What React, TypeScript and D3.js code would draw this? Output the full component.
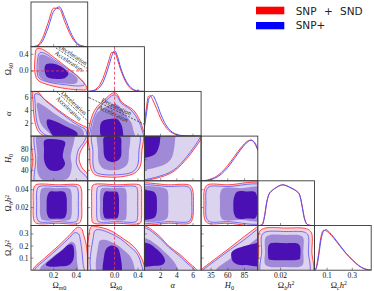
import React from 'react';
import * as d3 from 'd3';

type Pt = [number, number];

// ---- 1D marginals (peak-normalised) ----
const omegaMGrid = [0, 0.05, 0.1, 0.15, 0.2, 0.25, 0.3, 0.35, 0.4, 0.45, 0.5];
const omegaMRed = [0, 0.02, 0.2, 0.58, 0.95, 0.93, 0.6, 0.28, 0.08, 0.01, 0];
const omegaMBlue = [0, 0.01, 0.13, 0.46, 0.87, 0.98, 0.7, 0.35, 0.11, 0.02, 0];

const omegaKGrid = [-0.45, -0.4, -0.35, -0.3, -0.25, -0.2, -0.15, -0.1, -0.05, 0, 0.05, 0.1, 0.15, 0.2, 0.25, 0.3, 0.35, 0.4, 0.45, 0.5];
const omegaKRed = [0, 0.01, 0.03, 0.08, 0.17, 0.32, 0.52, 0.75, 0.96, 0.96, 0.78, 0.55, 0.36, 0.21, 0.11, 0.05, 0.02, 0.01, 0, 0];
const omegaKBlue = [0, 0.005, 0.02, 0.05, 0.11, 0.22, 0.4, 0.62, 0.86, 1.0, 0.86, 0.6, 0.4, 0.25, 0.14, 0.07, 0.03, 0.01, 0, 0];

const alphaGrid = [0, 0.25, 0.5, 0.75, 1, 1.5, 2, 2.5, 3, 3.5, 4, 4.5, 5, 6, 7];
const alphaRed = [0.3, 0.7, 0.98, 0.99, 0.9, 0.68, 0.44, 0.26, 0.14, 0.07, 0.03, 0.012, 0.005, 0, 0];
const alphaBlue = [0.2, 0.55, 0.88, 0.98, 1.0, 0.82, 0.55, 0.33, 0.18, 0.09, 0.04, 0.017, 0.008, 0, 0];

const h0Grid = [20, 30, 40, 50, 60, 70, 80, 90, 95, 100, 105];
const h0Red = [0, 0.02, 0.08, 0.2, 0.38, 0.6, 0.82, 0.98, 1.0, 0.93, 0.75];
const h0Blue = [0, 0.01, 0.06, 0.16, 0.33, 0.55, 0.78, 0.96, 1.0, 0.95, 0.78];

const ombGrid = [0.002, 0.004, 0.006, 0.008, 0.01, 0.013, 0.016, 0.02, 0.022, 0.025, 0.028, 0.031, 0.034, 0.037, 0.039, 0.041, 0.043, 0.045, 0.047];
const ombRed = [0, 0.03, 0.25, 0.6, 0.78, 0.87, 0.93, 0.99, 1.0, 0.98, 0.94, 0.9, 0.85, 0.75, 0.5, 0.2, 0.05, 0.01, 0];
const ombBlue = [0, 0.02, 0.22, 0.58, 0.77, 0.87, 0.93, 0.99, 1.0, 0.985, 0.945, 0.9, 0.85, 0.74, 0.48, 0.18, 0.04, 0.01, 0];

const omcGrid = [0, 0.01, 0.03, 0.05, 0.07, 0.09, 0.12, 0.15, 0.2, 0.25, 0.3, 0.35, 0.4, 0.45];
const omcRed = [0, 0.03, 0.35, 0.8, 0.98, 0.97, 0.9, 0.8, 0.6, 0.41, 0.25, 0.11, 0.03, 0];
const omcBlue = [0, 0.02, 0.28, 0.72, 0.95, 1.0, 0.93, 0.82, 0.62, 0.42, 0.26, 0.12, 0.03, 0];

// ---- 2D contours: [SNP+SND outer, SNP+ outer, SNP+ middle, SNP+ inner] ----
const mkContours: Pt[][] = [
  [[0.05, 0.53], [0.1, 0.52], [0.2, 0.33], [0.3, 0.12], [0.4, -0.1], [0.48, -0.33], [0.49, -0.44], [0.42, -0.45], [0.3, -0.42], [0.15, -0.33], [0.06, -0.22], [0.035, -0.05], [0.035, 0.3]],
  [[0.08, 0.44], [0.13, 0.41], [0.22, 0.24], [0.32, 0.05], [0.42, -0.15], [0.47, -0.33], [0.42, -0.36], [0.3, -0.33], [0.16, -0.27], [0.07, -0.17], [0.055, 0.0], [0.06, 0.3]],
  [[0.08, 0.38], [0.14, 0.36], [0.23, 0.2], [0.33, 0.0], [0.41, -0.18], [0.4, -0.29], [0.28, -0.3], [0.14, -0.25], [0.075, -0.14], [0.065, 0.1]],
  [[0.13, 0.15], [0.2, 0.17], [0.28, 0.08], [0.33, -0.07], [0.3, -0.17], [0.21, -0.19], [0.14, -0.14], [0.12, 0.02]],
];
const maContours: Pt[][] = [
  [[0.018, 6.95], [0.062, 6.9], [0.106, 5.97], [0.168, 5.1], [0.238, 4.13], [0.31, 3.2], [0.385, 2.32], [0.45, 1.7], [0.495, 1.27], [0.51, 0.5], [0.51, -0.3], [0.3, -0.3], [0.13, -0.05], [0.07, 0.6], [0.04, 1.8], [0.025, 3.3], [0.018, 5.3]],
  [[0.035, 6.6], [0.079, 6.44], [0.123, 5.65], [0.18, 4.8], [0.238, 3.93], [0.31, 3.0], [0.37, 2.2], [0.43, 1.55], [0.476, 1.1], [0.49, 0.5], [0.49, -0.3], [0.3, -0.3], [0.14, 0.1], [0.085, 0.8], [0.055, 2.0], [0.042, 3.5], [0.036, 5.3]],
  [[0.055, 5.2], [0.115, 4.71], [0.212, 3.46], [0.326, 2.2], [0.45, 1.11], [0.468, 0.3], [0.45, -0.3], [0.22, -0.3], [0.15, 0.64], [0.088, 1.9], [0.062, 3.62]],
  [[0.145, 2.6], [0.2, 2.4], [0.3, 1.6], [0.38, 0.9], [0.41, 0.4], [0.4, -0.3], [0.22, -0.3], [0.17, 0.7], [0.14, 1.8]],
];
const kaContours: Pt[][] = [
  [[-0.1, 6.3], [-0.03, 6.75], [0.03, 6.7], [0.12, 5.35], [0.22, 4.7], [0.32, 4.09], [0.43, 2.52], [0.49, 0.96], [0.52, -0.3], [0.0, -0.3], [-0.45, -0.3], [-0.44, 1.0], [-0.42, 2.0], [-0.38, 3.3], [-0.3, 4.6], [-0.22, 5.3]],
  [[-0.1, 5.95], [-0.03, 6.4], [0.03, 6.35], [0.12, 5.1], [0.22, 4.5], [0.3, 3.9], [0.41, 2.4], [0.47, 0.9], [0.49, -0.3], [0.0, -0.3], [-0.43, -0.3], [-0.41, 1.0], [-0.39, 2.0], [-0.34, 3.3], [-0.27, 4.5], [-0.2, 5.1]],
  [[-0.03, 5.0], [0.05, 4.9], [0.18, 3.4], [0.28, 2.2], [0.32, 1.0], [0.34, -0.3], [-0.39, -0.3], [-0.375, 1.8], [-0.3, 3.6], [-0.15, 4.6]],
  [[-0.22, 2.25], [-0.08, 2.68], [0.04, 2.68], [0.11, 1.9], [0.14, 0.9], [0.13, -0.3], [-0.21, -0.3], [-0.25, 1.0]],
];
const mhContours: Pt[][] = [
  [[0.018, 112], [0.3, 112], [0.51, 112], [0.5, 98], [0.46, 85], [0.432, 73], [0.425, 60], [0.45, 45], [0.5, 32], [0.52, 12], [0.3, 12], [0.018, 12], [0.016, 60]],
  [[0.044, 112], [0.3, 112], [0.49, 112], [0.47, 95], [0.42, 80], [0.405, 68], [0.4, 55], [0.43, 40], [0.49, 27], [0.51, 12], [0.3, 12], [0.044, 12], [0.042, 60]],
  [[0.06, 112], [0.38, 112], [0.38, 95], [0.36, 78], [0.35, 65], [0.36, 50], [0.35, 35], [0.32, 24], [0.2, 20], [0.1, 22], [0.06, 35], [0.055, 70]],
  [[0.12, 97], [0.21, 99], [0.3, 94], [0.29, 80], [0.28, 66], [0.3, 52], [0.26, 41], [0.17, 40], [0.12, 55], [0.115, 80]],
];
const khContours: Pt[][] = [
  [[-0.425, 112], [0.465, 112], [0.465, 75], [0.44, 48], [0.35, 35], [0.1, 27.5], [-0.2, 28], [-0.34, 32], [-0.41, 45], [-0.425, 75]],
  [[-0.37, 112], [0.41, 112], [0.415, 75], [0.39, 48], [0.3, 36.5], [0.05, 31.5], [-0.2, 32], [-0.32, 36], [-0.365, 48], [-0.37, 75]],
  [[-0.28, 112], [0.24, 112], [0.245, 75], [0.22, 52], [0.1, 42], [-0.05, 40], [-0.2, 44], [-0.27, 55], [-0.285, 80]],
  [[-0.18, 103], [-0.04, 105], [0.1, 103], [0.115, 85], [0.1, 64], [0.0, 56], [-0.1, 57], [-0.17, 65], [-0.19, 85]],
];
const ahContours: Pt[][] = [
  [[-1, 115], [7.3, 115], [7.1, 103], [6.5, 88], [5.8, 73], [5.0, 58], [4.2, 45], [3.2, 34], [2.0, 27], [0.8, 22.5], [-1, 19.5], [-1, 60]],
  [[-1, 115], [7.2, 115], [6.9, 103], [6.3, 88], [5.6, 73], [4.8, 58], [4.0, 45], [3.0, 35], [1.9, 29], [0.8, 24.5], [-1, 22], [-1, 60]],
  [[-1, 115], [3.85, 115], [3.8, 100], [3.65, 80], [3.4, 65], [2.8, 54], [1.9, 47.5], [0.8, 43], [-1, 41], [-1, 80]],
  [[-1, 115], [1.95, 115], [1.95, 100], [1.8, 85], [1.4, 72], [0.7, 66], [-1, 63], [-1, 90]],
];
const mbContours: Pt[][] = [
  [[0.04, 0.0453], [0.24, 0.0455], [0.425, 0.045], [0.445, 0.04], [0.447, 0.024], [0.445, 0.008], [0.425, 0.0027], [0.24, 0.0025], [0.04, 0.003], [0.022, 0.008], [0.02, 0.024], [0.022, 0.04]],
  [[0.07, 0.0434], [0.24, 0.0436], [0.4, 0.0432], [0.415, 0.039], [0.417, 0.024], [0.415, 0.009], [0.4, 0.0045], [0.24, 0.0043], [0.07, 0.0045], [0.052, 0.009], [0.05, 0.024], [0.052, 0.039]],
  [[0.1, 0.0416], [0.22, 0.0418], [0.34, 0.0414], [0.357, 0.037], [0.36, 0.024], [0.357, 0.011], [0.34, 0.0063], [0.22, 0.006], [0.1, 0.0063], [0.082, 0.011], [0.079, 0.024], [0.082, 0.037]],
  [[0.165, 0.0378], [0.23, 0.038], [0.295, 0.0375], [0.313, 0.032], [0.316, 0.023], [0.312, 0.013], [0.29, 0.008], [0.23, 0.0078], [0.165, 0.008], [0.142, 0.013], [0.138, 0.023], [0.142, 0.032]],
];
const kbContours: Pt[][] = [
  [[-0.37, 0.0453], [0.04, 0.0455], [0.44, 0.045], [0.46, 0.04], [0.463, 0.024], [0.46, 0.008], [0.44, 0.0027], [0.04, 0.0025], [-0.37, 0.003], [-0.39, 0.008], [-0.392, 0.024], [-0.39, 0.04]],
  [[-0.28, 0.0434], [0.04, 0.0436], [0.37, 0.0432], [0.392, 0.039], [0.395, 0.024], [0.392, 0.009], [0.37, 0.0045], [0.04, 0.0043], [-0.28, 0.0045], [-0.303, 0.009], [-0.306, 0.024], [-0.303, 0.039]],
  [[-0.22, 0.0416], [-0.02, 0.0418], [0.18, 0.0414], [0.204, 0.037], [0.207, 0.024], [0.204, 0.011], [0.18, 0.0063], [-0.02, 0.006], [-0.22, 0.0063], [-0.247, 0.011], [-0.25, 0.024], [-0.247, 0.037]],
  [[-0.16, 0.0378], [-0.06, 0.038], [0.045, 0.0375], [0.072, 0.032], [0.076, 0.023], [0.071, 0.013], [0.04, 0.008], [-0.06, 0.0078], [-0.16, 0.008], [-0.193, 0.013], [-0.198, 0.023], [-0.193, 0.032]],
];
const abContours: Pt[][] = [
  [[-1, 0.0453], [3, 0.0455], [5.6, 0.045], [5.95, 0.04], [6.05, 0.024], [5.95, 0.008], [5.6, 0.0027], [3, 0.0025], [-1, 0.0025], [-1, 0.024]],
  [[-1, 0.0434], [3, 0.0436], [5.4, 0.0432], [5.75, 0.039], [5.85, 0.024], [5.8, 0.009], [5.5, 0.0045], [3, 0.0043], [-1, 0.0043], [-1, 0.024]],
  [[-1, 0.0416], [2.5, 0.0417], [2.85, 0.039], [2.95, 0.024], [2.85, 0.009], [2.5, 0.0062], [-1, 0.0062], [-1, 0.024]],
  [[-1, 0.0378], [1.1, 0.038], [1.45, 0.034], [1.55, 0.023], [1.45, 0.012], [1.1, 0.008], [-1, 0.008], [-1, 0.023]],
];
const hbContours: Pt[][] = [
  [[30, 0.0455], [60, 0.0455], [115, 0.0455], [115, 0.0025], [60, 0.0025], [30, 0.0027], [25, 0.008], [24.2, 0.024], [25, 0.04]],
  [[32, 0.0434], [60, 0.0436], [115, 0.0436], [115, 0.0043], [60, 0.0043], [32, 0.0045], [27.8, 0.009], [27.2, 0.024], [27.8, 0.039]],
  [[53, 0.0416], [80, 0.0417], [115, 0.0417], [115, 0.0062], [80, 0.0062], [53, 0.0063], [49, 0.011], [48.3, 0.024], [49, 0.037]],
  [[74, 0.0378], [90, 0.038], [101, 0.0375], [104, 0.032], [104.5, 0.023], [104, 0.013], [101, 0.0082], [90, 0.0078], [74, 0.008], [69.5, 0.013], [68.3, 0.023], [69.5, 0.032]],
];
const mcContours: Pt[][] = [
  [[0.015, -0.04], [0.02, 0.01], [0.12, 0.1], [0.24, 0.2], [0.35, 0.3], [0.41, 0.355], [0.445, 0.345], [0.465, 0.29], [0.49, 0.2], [0.5, 0.08], [0.51, -0.04]],
  [[0.03, -0.04], [0.035, 0.008], [0.13, 0.09], [0.25, 0.19], [0.34, 0.27], [0.385, 0.31], [0.42, 0.3], [0.435, 0.25], [0.45, 0.15], [0.46, 0.05], [0.465, -0.04]],
  [[0.075, -0.04], [0.08, 0.015], [0.18, 0.1], [0.3, 0.19], [0.355, 0.235], [0.385, 0.22], [0.4, 0.165], [0.405, 0.08], [0.405, -0.04]],
  [[0.13, 0.045], [0.2, 0.11], [0.28, 0.17], [0.33, 0.21], [0.365, 0.21], [0.38, 0.16], [0.37, 0.08], [0.33, 0.04], [0.24, 0.03], [0.16, 0.03]],
];
const kcContours: Pt[][] = [
  [[-0.435, -0.04], [-0.435, 0.3], [-0.4, 0.36], [-0.3, 0.36], [-0.08, 0.33], [0.15, 0.26], [0.32, 0.2], [0.44, 0.12], [0.5, 0.05], [0.52, -0.04]],
  [[-0.365, -0.04], [-0.365, 0.27], [-0.33, 0.33], [-0.25, 0.335], [-0.05, 0.3], [0.1, 0.26], [0.25, 0.2], [0.38, 0.14], [0.45, 0.06], [0.47, -0.04]],
  [[-0.28, -0.04], [-0.28, 0.2], [-0.25, 0.245], [-0.15, 0.25], [0.0, 0.22], [0.15, 0.17], [0.26, 0.12], [0.32, 0.06], [0.33, -0.04]],
  [[-0.18, -0.04], [-0.185, 0.1], [-0.14, 0.18], [-0.05, 0.205], [0.05, 0.185], [0.1, 0.12], [0.1, -0.04]],
];
const acContours: Pt[][] = [
  [[-1, -0.05], [-1, 0.37], [0.3, 0.36], [1.0, 0.33], [1.9, 0.28], [3.0, 0.2], [4.4, 0.13], [5.5, 0.06], [6.3, 0.015], [6.8, -0.05]],
  [[-1, -0.05], [-1, 0.35], [0.3, 0.345], [1.0, 0.315], [1.9, 0.265], [3.0, 0.19], [4.3, 0.12], [5.4, 0.05], [6.1, 0.01], [6.4, -0.05]],
  [[-1, -0.05], [-1, 0.27], [0.5, 0.255], [1.5, 0.21], [2.5, 0.15], [3.4, 0.09], [4.0, 0.03], [4.2, -0.05]],
  [[-1, 0.04], [-1, 0.23], [0.5, 0.22], [1.5, 0.175], [2.3, 0.12], [2.55, 0.075], [2.2, 0.045], [1.0, 0.035]],
];
const hcContours: Pt[][] = [
  [[10, -0.05], [18, -0.005], [40, 0.089], [63, 0.185], [85, 0.28], [103, 0.355], [115, 0.405], [115, -0.05]],
  [[12, -0.05], [21, -0.005], [42, 0.083], [64, 0.172], [86, 0.258], [103, 0.333], [115, 0.38], [115, -0.05]],
  [[38, -0.05], [43, 0.01], [60, 0.08], [80, 0.16], [103, 0.26], [115, 0.3], [115, -0.05]],
  [[66, 0.15], [72, 0.175], [88, 0.205], [101, 0.222], [110, 0.23], [110, 0.04], [90, 0.042], [76, 0.045], [68, 0.07], [65, 0.12]],
];
const bcContours: Pt[][] = [
  [[0.0008, -0.03], [0.0008, 0.15], [0.001, 0.31], [0.005, 0.345], [0.025, 0.349], [0.043, 0.343], [0.0473, 0.31], [0.0477, 0.15], [0.0477, -0.03]],
  [[0.0034, -0.03], [0.0034, 0.15], [0.0036, 0.29], [0.007, 0.317], [0.025, 0.32], [0.041, 0.315], [0.0443, 0.29], [0.0446, 0.15], [0.0446, -0.03]],
  [[0.0064, 0.05], [0.0064, 0.15], [0.0068, 0.27], [0.01, 0.29], [0.025, 0.292], [0.037, 0.289], [0.04, 0.27], [0.0401, 0.15], [0.0399, 0.05], [0.037, 0.029], [0.025, 0.027], [0.01, 0.029]],
  [[0.0093, 0.2], [0.011, 0.222], [0.025, 0.224], [0.035, 0.221], [0.0372, 0.2], [0.0373, 0.1], [0.0368, 0.09], [0.034, 0.084], [0.025, 0.083], [0.012, 0.084], [0.0095, 0.09], [0.0093, 0.1]],
];

// ---- axes ----
const xDomains: [number, number][] = [[0, 0.5], [-0.46, 0.51], [0, 7], [20, 105], [0, 0.05], [0, 0.45]];
const yDomains: [number, number][] = [[0, 1], [-0.49, 0.58], [0, 7], [20, 105], [0, 0.05], [0, 0.37]];
const xTickVals = [[0.2, 0.4], [0.0, 0.4], [2, 4, 6], [35, 60, 85], [0.02], [0.1, 0.3]];
const xTickText = [['0.2', '0.4'], ['0.0', '0.4'], ['2', '4', '6'], ['35', '60', '85'], ['0.02'], ['0.1', '0.3']];
const yTickVals = [[], [0.0, 0.4], [2, 4, 6], [40, 60, 80], [0.02, 0.04], [0.1, 0.2, 0.3]];
const yTickText = [[], ['0.0', '0.4'], ['2', '4', '6'], ['40', '60', '80'], ['0.02', '0.04'], ['0.1', '0.2', '0.3']];

const legendLabels = ['SNP + SND', 'SNP+'];
const annoTexts = ['Deceleration', 'Acceleration'];

const X0 = 31, Y0 = 2, CW = 56.7, RH = 44.7;
const RED = '#ff3535', BLUE = '#5252ff';
const FILLS = ['#f8d4dd', '#dcd3ef', '#a08ad7', '#4b10b3'];
const SERIF = "'Liberation Serif', 'DejaVu Serif', serif";
const X_LABEL_SHIFT = [0, 0, 0, 0, 0, -4];

const colX = (c: number) => X0 + c * CW;
const rowY = (r: number) => Y0 + r * RH;
const xScale = (c: number) => d3.scaleLinear().domain(xDomains[c]).range([colX(c), colX(c) + CW]);
const yScale = (r: number) => d3.scaleLinear().domain(yDomains[r]).range([rowY(r) + RH, rowY(r)]);

const diagonals = [
  { grid: omegaMGrid, red: omegaMRed, blue: omegaMBlue },
  { grid: omegaKGrid, red: omegaKRed, blue: omegaKBlue },
  { grid: alphaGrid, red: alphaRed, blue: alphaBlue },
  { grid: h0Grid, red: h0Red, blue: h0Blue },
  { grid: ombGrid, red: ombRed, blue: ombBlue },
  { grid: omcGrid, red: omcRed, blue: omcBlue },
];

const panels2D = [
  { row: 1, col: 0, c: mkContours },
  { row: 2, col: 0, c: maContours },
  { row: 2, col: 1, c: kaContours },
  { row: 3, col: 0, c: mhContours },
  { row: 3, col: 1, c: khContours },
  { row: 3, col: 2, c: ahContours },
  { row: 4, col: 0, c: mbContours },
  { row: 4, col: 1, c: kbContours },
  { row: 4, col: 2, c: abContours },
  { row: 4, col: 3, c: hbContours },
  { row: 5, col: 0, c: mcContours },
  { row: 5, col: 1, c: kcContours },
  { row: 5, col: 2, c: acContours },
  { row: 5, col: 3, c: hcContours },
  { row: 5, col: 4, c: bcContours },
];

const annoLines: { row: number; col: number; from: Pt; to: Pt }[] = [
  { row: 1, col: 0, from: [0.22, 0.55], to: [0.5, 0.05] },
  { row: 2, col: 0, from: [0.223, 7.0], to: [0.503, 2.32] },
  { row: 2, col: 1, from: [-0.48, 6.23], to: [0.52, 1.79] },
];

const clipId = (r: number, c: number) => `clip-${r}-${c}`;

const XTicks = ({ col, row }: { col: number; row: number }) => {
  const xs = xScale(col);
  const bottom = rowY(row) + RH;
  return (
    <g stroke="#444" strokeWidth={0.6}>
      {xTickVals[col].map((v, i) => (
        <line key={i} x1={xs(v)} x2={xs(v)} y1={bottom} y2={bottom - 2.5} />
      ))}
    </g>
  );
};

const YTicks = ({ col, row }: { col: number; row: number }) => {
  const ys = yScale(row);
  const left = colX(col);
  return (
    <g stroke="#444" strokeWidth={0.6}>
      {yTickVals[row].map((v, i) => (
        <line key={i} x1={left} x2={left + 2.5} y1={ys(v)} y2={ys(v)} />
      ))}
    </g>
  );
};

const Frame = ({ row, col }: { row: number; col: number }) => (
  <rect x={colX(col)} y={rowY(row)} width={CW} height={RH} fill="none" stroke="#3a3a3a" strokeWidth={0.9} />
);

const Panel2D = ({ row, col, c }: { row: number; col: number; c: Pt[][] }) => {
  const xs = xScale(col);
  const ys = yScale(row);
  const line = d3.line<Pt>().x(d => xs(d[0])).y(d => ys(d[1])).curve(d3.curveCatmullRomClosed.alpha(0.5));
  return (
    <g>
      <g clipPath={`url(#${clipId(row, col)})`}>
        {c.map((pts, i) => (
          <path key={i} d={line(pts) || ''} fill={FILLS[i]} stroke="none" />
        ))}
        <path d={line(c[1]) || ''} fill="none" stroke={BLUE} strokeWidth={0.8} />
        <path d={line(c[0]) || ''} fill="none" stroke={RED} strokeWidth={0.9} />
      </g>
      <XTicks col={col} row={row} />
      <YTicks col={col} row={row} />
    </g>
  );
};

const PanelDiag = ({ i }: { i: number }) => {
  const d = diagonals[i];
  const xs = xScale(i);
  const ys = d3.scaleLinear().domain([0, 1.1]).range([rowY(i) + RH, rowY(i)]);
  const line = (vals: number[]) =>
    d3.line<number>().x((_, k) => xs(d.grid[k])).y(v => ys(v)).curve(d3.curveMonotoneX)(vals) || '';
  return (
    <g>
      <g clipPath={`url(#${clipId(i, i)})`}>
        <path d={line(d.red)} fill="none" stroke={RED} strokeWidth={1} />
        <path d={line(d.blue)} fill="none" stroke={BLUE} strokeWidth={1} />
      </g>
      <XTicks col={i} row={i} />
    </g>
  );
};

const Annotation = ({ row, col, from, to }: { row: number; col: number; from: Pt; to: Pt }) => {
  const xs = xScale(col);
  const ys = yScale(row);
  const x1 = xs(from[0]), y1 = ys(from[1]), x2 = xs(to[0]), y2 = ys(to[1]);
  const ang = (Math.atan2(y2 - y1, x2 - x1) * 180) / Math.PI;
  const mx = (x1 + x2) / 2, my = (y1 + y2) / 2;
  return (
    <g clipPath={`url(#${clipId(row, col)})`}>
      <line x1={x1} y1={y1} x2={x2} y2={y2} stroke="#222" strokeWidth={0.7} strokeDasharray="2,1.3" />
      <g transform={`translate(${mx},${my}) rotate(${ang})`} fontFamily={SERIF} fontSize={6.3} fill="#222" textAnchor="middle">
        <text x={-1} y={-1.6}>{annoTexts[0]}</text>
        <text x={-1} y={6}>{annoTexts[1]}</text>
      </g>
    </g>
  );
};

const sub = (t: string, italic = true) => (
  <tspan dy={2} fontSize={6.2} fontStyle={italic ? 'italic' : 'normal'}>{t}</tspan>
);

const axisLabels = [
  <><tspan>Ω</tspan><tspan dy={2} fontSize={6.2} fontStyle="italic">m</tspan><tspan fontSize={6.2}>0</tspan></>,
  <><tspan>Ω</tspan><tspan dy={2} fontSize={6.2} fontStyle="italic">k</tspan><tspan fontSize={6.2}>0</tspan></>,
  <tspan fontStyle="italic">α</tspan>,
  <><tspan fontStyle="italic">H</tspan>{sub('0', false)}</>,
  <><tspan>Ω</tspan>{sub('b')}<tspan dy={-2} fontStyle="italic">h</tspan><tspan dy={-2.5} fontSize={5.8}>2</tspan></>,
  <><tspan>Ω</tspan>{sub('c')}<tspan dy={-2} fontStyle="italic">h</tspan><tspan dy={-2.5} fontSize={5.8}>2</tspan></>,
];

export default function App() {
  const bottom = rowY(6);
  const kZero = xScale(1)(0);
  const mkZeroY = yScale(1)(0);
  return (
    <svg width={374} height={291} style={{ position: 'absolute', left: 0, top: 0, background: '#fff' }} fontFamily={SERIF}>
      <defs>
        {d3.range(6).map(r =>
          d3.range(r + 1).map(c => (
            <clipPath key={`${r}-${c}`} id={clipId(r, c)}>
              <rect x={colX(c)} y={rowY(r)} width={CW} height={RH} />
            </clipPath>
          ))
        )}
      </defs>

      {panels2D.map(p => (
        <Panel2D key={`${p.row}-${p.col}`} row={p.row} col={p.col} c={p.c} />
      ))}
      {diagonals.map((_, i) => (
        <PanelDiag key={i} i={i} />
      ))}

      {annoLines.map((a, i) => (
        <Annotation key={i} {...a} />
      ))}

      {/* Omega_k0 = 0 reference lines */}
      <line x1={kZero} x2={kZero} y1={rowY(1)} y2={bottom} stroke="#e8385a" strokeOpacity={0.85} strokeWidth={1} strokeDasharray="3,2" />
      <line x1={colX(0)} x2={colX(1)} y1={mkZeroY} y2={mkZeroY} stroke="#e8385a" strokeOpacity={0.85} strokeWidth={1} strokeDasharray="3,2" />

      {d3.range(6).map(r =>
        d3.range(r + 1).map(c => <Frame key={`f${r}-${c}`} row={r} col={c} />)
      )}

      {/* bottom tick labels and axis labels */}
      {xTickVals.map((vals, c) =>
        vals.map((v, k) => (
          <text key={`xt${c}-${k}`} x={xScale(c)(v)} y={bottom + 7.8} fontSize={7.5} textAnchor="middle" fill="#111">
            {xTickText[c][k]}
          </text>
        ))
      )}
      {axisLabels.map((lab, c) => (
        <text key={`xl${c}`} x={colX(c) + CW / 2 + X_LABEL_SHIFT[c]} y={bottom + 17.4} fontSize={8.5} textAnchor="middle" fill="#111">
          {lab}
        </text>
      ))}

      {/* left tick labels and axis labels */}
      {yTickVals.map((vals, r) =>
        vals.map((v, k) => (
          <text key={`yt${r}-${k}`} x={28.5} y={yScale(r)(v)} dy="0.33em" fontSize={7.5} textAnchor="end" fill="#111">
            {yTickText[r][k]}
          </text>
        ))
      )}
      {axisLabels.slice(1).map((lab, i) => {
        const r = i + 1;
        const cy = rowY(r) + RH / 2;
        return (
          <text key={`yl${r}`} transform={`translate(11,${cy}) rotate(-90)`} fontSize={8.5} textAnchor="middle" fill="#111">
            {lab}
          </text>
        );
      })}

      {/* legend */}
      <g fontFamily="'DejaVu Sans', sans-serif" fontSize={10.5} fill="#222">
        <rect x={256} y={6.7} width={28.3} height={7.6} fill="#ff0000" />
        <rect x={256} y={22} width={28.3} height={7.3} fill="#0000ff" />
        <text x={295.7} y={14.6} wordSpacing={4}>{legendLabels[0]}</text>
        <text x={295.7} y={28.6}>{legendLabels[1]}</text>
      </g>
    </svg>
  );
}
